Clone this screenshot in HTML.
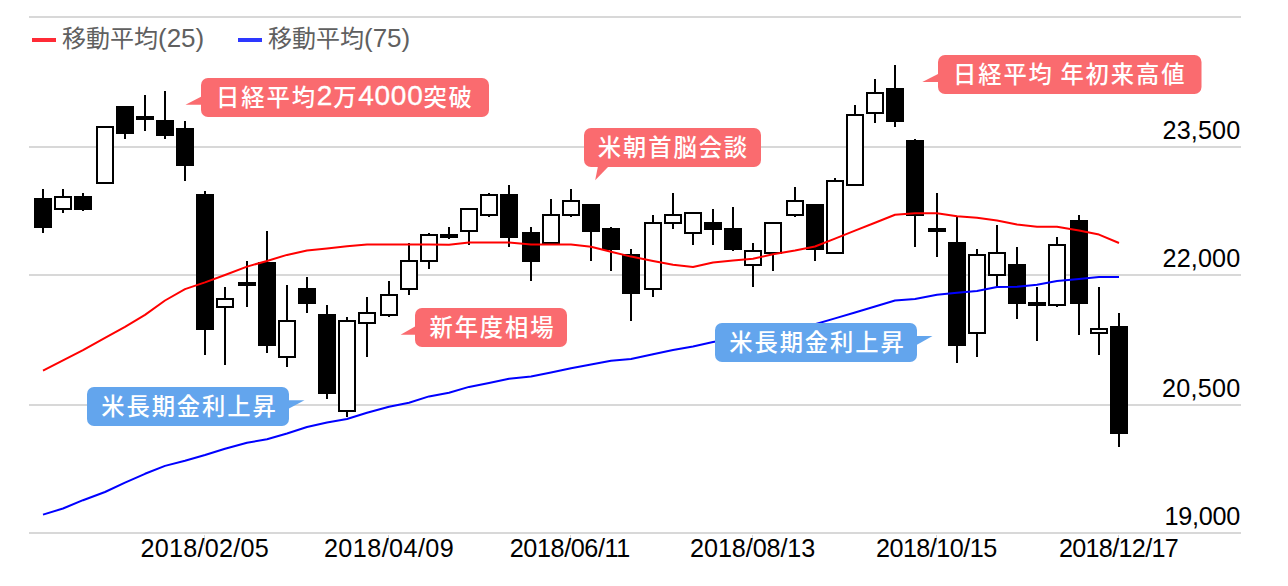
<!DOCTYPE html><html><head><meta charset="utf-8"><style>html,body{margin:0;padding:0;background:#fff;overflow:hidden}svg{display:block}</style></head><body>
<svg width="1288" height="586" viewBox="0 0 1288 586">
<rect width="1288" height="586" fill="#fff"/>
<g fill="#d8d8d8" shape-rendering="crispEdges">
<rect x="29" y="16" width="1212" height="2"/>
<rect x="29" y="146" width="1212" height="2"/>
<rect x="29" y="274" width="1212" height="2"/>
<rect x="29" y="404" width="1212" height="2"/>
<rect x="29" y="532" width="1212" height="2"/>
<rect x="204" y="535" width="1" height="10"/>
<rect x="388" y="535" width="1" height="10"/>
<rect x="570" y="535" width="1" height="10"/>
<rect x="752" y="535" width="1" height="10"/>
<rect x="936" y="535" width="1" height="10"/>
<rect x="1118" y="535" width="1" height="10"/>
</g>
<g font-family='"Liberation Sans", sans-serif' font-size="25.2" letter-spacing="0.2" fill="#000" text-anchor="end">
<text x="1201.50" y="139" text-anchor="middle" textLength="78.0" lengthAdjust="spacing">23,500</text>
<text x="1201.50" y="267.2" text-anchor="middle" textLength="78.0" lengthAdjust="spacing">22,000</text>
<text x="1201.25" y="397.2" text-anchor="middle" textLength="78.5" lengthAdjust="spacing">20,500</text>
<text x="1202.55" y="524.8" text-anchor="middle" textLength="75.9" lengthAdjust="spacing">19,000</text>
</g>
<g font-family='"Liberation Sans", sans-serif' font-size="25.2" letter-spacing="0.2" fill="#000" text-anchor="middle">
<text x="204.80" y="556.7" textLength="128.4" lengthAdjust="spacing">2018/02/05</text>
<text x="388.95" y="556.7" textLength="130.1" lengthAdjust="spacing">2018/04/09</text>
<text x="570.10" y="556.7" textLength="120.8" lengthAdjust="spacing">2018/06/11</text>
<text x="752.80" y="556.7" textLength="125.4" lengthAdjust="spacing">2018/08/13</text>
<text x="936.70" y="556.7" textLength="121.6" lengthAdjust="spacing">2018/10/15</text>
<text x="1118.95" y="556.7" textLength="120.1" lengthAdjust="spacing">2018/12/17</text>
</g>
<rect x="32" y="38" width="24" height="4" fill="#ff2b36"/>
<rect x="238" y="38" width="24" height="4" fill="#2d38ff"/>
<g font-family='"Liberation Sans", "Noto Sans CJK JP", sans-serif' font-size="24" fill="#606060">
<text x="62" y="47.3">移動平均<tspan font-size="26" letter-spacing="0.0">(25)</tspan></text>
<text x="268" y="47.3">移動平均<tspan font-size="26" letter-spacing="0.0">(75)</tspan></text>
</g>
<g fill="#000" shape-rendering="crispEdges">
<rect x="42" y="189" width="2" height="9"/>
<rect x="42" y="228" width="2" height="5"/>
<rect x="34" y="198" width="18" height="30"/>
<rect x="62" y="189" width="2" height="7"/>
<rect x="62" y="210" width="2" height="3"/>
<rect x="54" y="196" width="18" height="14"/>
<rect x="56" y="198" width="14" height="10" fill="#fff"/>
<rect x="82" y="193" width="2" height="3"/>
<rect x="82" y="210" width="2" height="1"/>
<rect x="74" y="196" width="18" height="14"/>
<rect x="96" y="126" width="18" height="58"/>
<rect x="98" y="128" width="14" height="54" fill="#fff"/>
<rect x="124" y="134" width="2" height="5"/>
<rect x="116" y="106" width="18" height="28"/>
<rect x="144" y="95" width="2" height="21"/>
<rect x="144" y="120" width="2" height="11"/>
<rect x="136" y="116" width="18" height="4"/>
<rect x="164" y="91" width="2" height="29"/>
<rect x="164" y="136" width="2" height="3"/>
<rect x="156" y="120" width="18" height="16"/>
<rect x="184" y="121" width="2" height="7"/>
<rect x="184" y="166" width="2" height="15"/>
<rect x="176" y="128" width="18" height="38"/>
<rect x="204" y="191" width="2" height="3"/>
<rect x="204" y="330" width="2" height="25"/>
<rect x="196" y="194" width="18" height="136"/>
<rect x="224" y="287" width="2" height="11"/>
<rect x="224" y="308" width="2" height="57"/>
<rect x="216" y="298" width="18" height="10"/>
<rect x="218" y="300" width="14" height="6" fill="#fff"/>
<rect x="246" y="261" width="2" height="21"/>
<rect x="246" y="286" width="2" height="21"/>
<rect x="238" y="282" width="18" height="4"/>
<rect x="266" y="231" width="2" height="31"/>
<rect x="266" y="346" width="2" height="7"/>
<rect x="258" y="262" width="18" height="84"/>
<rect x="286" y="285" width="2" height="35"/>
<rect x="286" y="358" width="2" height="9"/>
<rect x="278" y="320" width="18" height="38"/>
<rect x="280" y="322" width="14" height="34" fill="#fff"/>
<rect x="306" y="277" width="2" height="11"/>
<rect x="306" y="304" width="2" height="9"/>
<rect x="298" y="288" width="18" height="16"/>
<rect x="326" y="305" width="2" height="9"/>
<rect x="326" y="394" width="2" height="5"/>
<rect x="318" y="314" width="18" height="80"/>
<rect x="346" y="317" width="2" height="3"/>
<rect x="346" y="412" width="2" height="5"/>
<rect x="338" y="320" width="18" height="92"/>
<rect x="340" y="322" width="14" height="88" fill="#fff"/>
<rect x="366" y="297" width="2" height="15"/>
<rect x="366" y="324" width="2" height="33"/>
<rect x="358" y="312" width="18" height="12"/>
<rect x="360" y="314" width="14" height="8" fill="#fff"/>
<rect x="388" y="281" width="2" height="13"/>
<rect x="388" y="316" width="2" height="1"/>
<rect x="380" y="294" width="18" height="22"/>
<rect x="382" y="296" width="14" height="18" fill="#fff"/>
<rect x="408" y="243" width="2" height="17"/>
<rect x="408" y="290" width="2" height="5"/>
<rect x="400" y="260" width="18" height="30"/>
<rect x="402" y="262" width="14" height="26" fill="#fff"/>
<rect x="428" y="233" width="2" height="1"/>
<rect x="428" y="262" width="2" height="7"/>
<rect x="420" y="234" width="18" height="28"/>
<rect x="422" y="236" width="14" height="24" fill="#fff"/>
<rect x="448" y="227" width="2" height="7"/>
<rect x="448" y="238" width="2" height="1"/>
<rect x="440" y="234" width="18" height="4"/>
<rect x="468" y="232" width="2" height="13"/>
<rect x="460" y="208" width="18" height="24"/>
<rect x="462" y="210" width="14" height="20" fill="#fff"/>
<rect x="488" y="193" width="2" height="1"/>
<rect x="488" y="216" width="2" height="1"/>
<rect x="480" y="194" width="18" height="22"/>
<rect x="482" y="196" width="14" height="18" fill="#fff"/>
<rect x="508" y="185" width="2" height="9"/>
<rect x="508" y="238" width="2" height="9"/>
<rect x="500" y="194" width="18" height="44"/>
<rect x="530" y="227" width="2" height="5"/>
<rect x="530" y="262" width="2" height="19"/>
<rect x="522" y="232" width="18" height="30"/>
<rect x="550" y="199" width="2" height="15"/>
<rect x="542" y="214" width="18" height="30"/>
<rect x="544" y="216" width="14" height="26" fill="#fff"/>
<rect x="570" y="189" width="2" height="11"/>
<rect x="570" y="216" width="2" height="1"/>
<rect x="562" y="200" width="18" height="16"/>
<rect x="564" y="202" width="14" height="12" fill="#fff"/>
<rect x="590" y="232" width="2" height="29"/>
<rect x="582" y="204" width="18" height="28"/>
<rect x="610" y="227" width="2" height="1"/>
<rect x="610" y="250" width="2" height="21"/>
<rect x="602" y="228" width="18" height="22"/>
<rect x="630" y="249" width="2" height="5"/>
<rect x="630" y="294" width="2" height="27"/>
<rect x="622" y="254" width="18" height="40"/>
<rect x="652" y="215" width="2" height="7"/>
<rect x="652" y="290" width="2" height="7"/>
<rect x="644" y="222" width="18" height="68"/>
<rect x="646" y="224" width="14" height="64" fill="#fff"/>
<rect x="672" y="193" width="2" height="21"/>
<rect x="672" y="224" width="2" height="5"/>
<rect x="664" y="214" width="18" height="10"/>
<rect x="666" y="216" width="14" height="6" fill="#fff"/>
<rect x="692" y="234" width="2" height="11"/>
<rect x="684" y="212" width="18" height="22"/>
<rect x="686" y="214" width="14" height="18" fill="#fff"/>
<rect x="712" y="209" width="2" height="13"/>
<rect x="712" y="230" width="2" height="15"/>
<rect x="704" y="222" width="18" height="8"/>
<rect x="732" y="207" width="2" height="21"/>
<rect x="732" y="250" width="2" height="1"/>
<rect x="724" y="228" width="18" height="22"/>
<rect x="752" y="243" width="2" height="7"/>
<rect x="752" y="266" width="2" height="21"/>
<rect x="744" y="250" width="18" height="16"/>
<rect x="746" y="252" width="14" height="12" fill="#fff"/>
<rect x="772" y="254" width="2" height="17"/>
<rect x="764" y="222" width="18" height="32"/>
<rect x="766" y="224" width="14" height="28" fill="#fff"/>
<rect x="794" y="187" width="2" height="13"/>
<rect x="794" y="216" width="2" height="1"/>
<rect x="786" y="200" width="18" height="16"/>
<rect x="788" y="202" width="14" height="12" fill="#fff"/>
<rect x="814" y="250" width="2" height="11"/>
<rect x="806" y="204" width="18" height="46"/>
<rect x="834" y="178" width="2" height="2"/>
<rect x="826" y="180" width="18" height="74"/>
<rect x="828" y="182" width="14" height="70" fill="#fff"/>
<rect x="854" y="105" width="2" height="9"/>
<rect x="846" y="114" width="18" height="72"/>
<rect x="848" y="116" width="14" height="68" fill="#fff"/>
<rect x="874" y="79" width="2" height="13"/>
<rect x="874" y="114" width="2" height="9"/>
<rect x="866" y="92" width="18" height="22"/>
<rect x="868" y="94" width="14" height="18" fill="#fff"/>
<rect x="894" y="65" width="2" height="23"/>
<rect x="894" y="122" width="2" height="5"/>
<rect x="886" y="88" width="18" height="34"/>
<rect x="914" y="139" width="2" height="1"/>
<rect x="914" y="216" width="2" height="31"/>
<rect x="906" y="140" width="18" height="76"/>
<rect x="936" y="193" width="2" height="35"/>
<rect x="936" y="232" width="2" height="25"/>
<rect x="928" y="228" width="18" height="4"/>
<rect x="956" y="217" width="2" height="25"/>
<rect x="956" y="346" width="2" height="17"/>
<rect x="948" y="242" width="18" height="104"/>
<rect x="976" y="249" width="2" height="5"/>
<rect x="976" y="334" width="2" height="23"/>
<rect x="968" y="254" width="18" height="80"/>
<rect x="970" y="256" width="14" height="76" fill="#fff"/>
<rect x="996" y="225" width="2" height="27"/>
<rect x="996" y="276" width="2" height="11"/>
<rect x="988" y="252" width="18" height="24"/>
<rect x="990" y="254" width="14" height="20" fill="#fff"/>
<rect x="1016" y="247" width="2" height="17"/>
<rect x="1016" y="304" width="2" height="15"/>
<rect x="1008" y="264" width="18" height="40"/>
<rect x="1036" y="287" width="2" height="15"/>
<rect x="1036" y="306" width="2" height="35"/>
<rect x="1028" y="302" width="18" height="4"/>
<rect x="1056" y="237" width="2" height="7"/>
<rect x="1056" y="306" width="2" height="1"/>
<rect x="1048" y="244" width="18" height="62"/>
<rect x="1050" y="246" width="14" height="58" fill="#fff"/>
<rect x="1078" y="215" width="2" height="5"/>
<rect x="1078" y="304" width="2" height="31"/>
<rect x="1070" y="220" width="18" height="84"/>
<rect x="1098" y="287" width="2" height="41"/>
<rect x="1098" y="334" width="2" height="21"/>
<rect x="1090" y="328" width="18" height="6"/>
<rect x="1092" y="330" width="14" height="2" fill="#fff"/>
<rect x="1118" y="313" width="2" height="13"/>
<rect x="1118" y="434" width="2" height="13"/>
<rect x="1110" y="326" width="18" height="108"/>
</g>
<polyline points="43,370.6 63,360.3 83,350.1 105,337.8 125,326.8 145,314.9 165,300.5 185,289.1 205,282.4 225,275.0 247,266.6 267,261.0 287,254.9 307,250.5 327,248.4 347,246.3 367,244.5 389,244.5 409,244.5 429,244.5 449,244.7 469,242.6 489,242.6 509,242.6 531,244.6 551,244.6 571,244.6 591,246.7 611,251.7 631,256.6 653,261.0 673,264.8 693,266.9 713,262.4 733,260.6 753,258.7 773,254.3 795,250.5 815,246.5 835,238.6 855,230.6 875,222.7 895,214.8 915,213.2 937,213.2 957,216.3 977,217.7 997,220.5 1017,224.6 1037,226.8 1057,226.8 1079,230.6 1099,234.6 1119,243.0" fill="none" stroke="#ff0000" stroke-width="2" stroke-linejoin="round"/>
<polyline points="43,514.6 63,508.5 83,500.2 105,492.0 125,482.6 145,473.8 165,465.9 185,460.7 205,455.0 225,448.8 247,442.8 267,439.3 287,433.5 307,427.0 327,422.6 347,419.0 367,412.7 389,406.7 409,402.7 429,396.4 449,392.7 469,386.9 489,382.9 509,378.7 531,376.6 551,372.5 571,368.2 591,364.5 611,360.7 631,359.0 653,354.3 673,350.1 693,346.4 713,342.0 733,338.5 753,335.0 773,331.6 795,327.8 815,324.3 835,318.4 855,312.5 875,306.5 895,300.5 915,299.0 937,294.8 957,292.8 977,290.9 997,286.9 1017,286.7 1037,284.8 1057,281.1 1079,279.0 1099,276.9 1119,276.9" fill="none" stroke="#0000ff" stroke-width="2" stroke-linejoin="round"/>
<g fill="#fa6b6f"><rect x="201" y="78" width="288" height="39" rx="7"/><polygon points="201,96.8 201,104.7 185.5,104.7"/></g>
<text x="344.95" y="106.4" font-family='"Liberation Sans", "Noto Sans CJK JP", sans-serif' font-size="23.3" font-weight="500" letter-spacing="1.9" fill="#fff" text-anchor="middle">日経平均<tspan font-size="28" letter-spacing="0.7" font-weight="400" baseline-shift="1.3" stroke="#fff" stroke-width="0.35">2</tspan>万<tspan font-size="28" letter-spacing="0.7" font-weight="400" baseline-shift="1.3" stroke="#fff" stroke-width="0.35">4000</tspan>突破</text>
<g fill="#fa6b6f"><rect x="584" y="128" width="177" height="39" rx="7"/><polygon points="598,166 609,166 595.2,180.2"/></g>
<text x="673.45" y="156.4" font-family='"Liberation Sans", "Noto Sans CJK JP", sans-serif' font-size="23.3" font-weight="500" letter-spacing="1.9" fill="#fff" text-anchor="middle">米朝首脳会談</text>
<g fill="#fa6b6f"><rect x="938" y="55" width="263.5" height="39" rx="7"/><polygon points="938,73.9 938,82 922.3,82"/></g>
<text x="1069.7" y="83.4" font-family='"Liberation Sans", "Noto Sans CJK JP", sans-serif' font-size="23.3" font-weight="500" letter-spacing="1.9" fill="#fff" text-anchor="middle">日経平均<tspan font-size="17">&#160;</tspan>年初来高値</text>
<g fill="#fa6b6f"><rect x="415" y="308" width="152" height="39" rx="7"/><polygon points="415,326.6 415,334.7 400.6,334.7"/></g>
<text x="492.45" y="336.4" font-family='"Liberation Sans", "Noto Sans CJK JP", sans-serif' font-size="23.3" font-weight="500" letter-spacing="1.9" fill="#fff" text-anchor="middle">新年度相場</text>
<g fill="#63a5ed"><rect x="87" y="387" width="202" height="39" rx="7"/><polygon points="289,400.2 304.5,400.2 289,408.5"/></g>
<text x="189.45" y="415.4" font-family='"Liberation Sans", "Noto Sans CJK JP", sans-serif' font-size="23.3" font-weight="500" letter-spacing="1.9" fill="#fff" text-anchor="middle">米長期金利上昇</text>
<g fill="#63a5ed"><rect x="715" y="323" width="202" height="39" rx="7"/><polygon points="917,336.1 932.5,336.1 917,344.8"/></g>
<text x="817.45" y="351.4" font-family='"Liberation Sans", "Noto Sans CJK JP", sans-serif' font-size="23.3" font-weight="500" letter-spacing="1.9" fill="#fff" text-anchor="middle">米長期金利上昇</text>
</svg></body></html>
